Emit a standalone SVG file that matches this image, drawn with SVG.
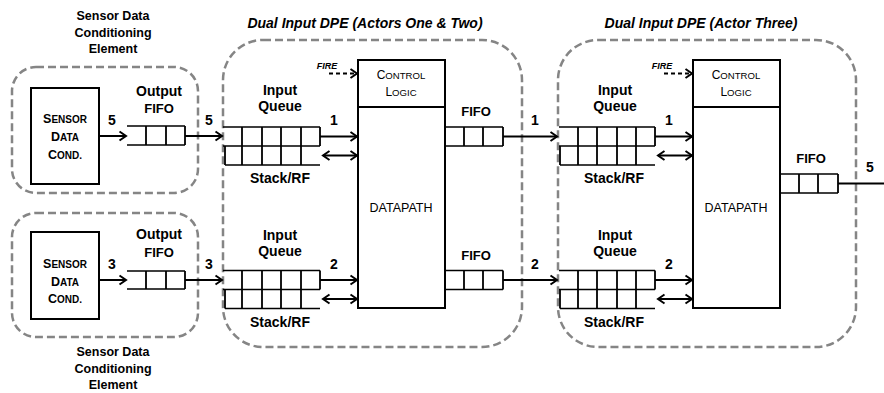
<svg xmlns="http://www.w3.org/2000/svg" width="884" height="393" viewBox="0 0 884 393">
  <style>
    .frame { fill: none; stroke: #858585; stroke-width: 2.5; stroke-dasharray: 8 4; }
    .blk { fill: #fff; stroke: #000; stroke-width: 2; }
    .q { fill: none; stroke: #000; stroke-width: 1.4; }
    .qv { fill: none; stroke: #000; stroke-width: 1.8; }
    .wire { fill: none; stroke: #000; stroke-width: 2; }
    .fire { fill: none; stroke: #000; stroke-width: 1.8; stroke-dasharray: 4 3; }
    text { font-family: "Liberation Sans", Arial, sans-serif; fill: #000; text-anchor: middle; }
    .lbl { font-weight: bold; font-size: 14px; }
    .cap { font-weight: bold; font-size: 12.5px; }
    .ttl { font-weight: bold; font-style: italic; font-size: 14px; }
    .num { font-weight: bold; font-size: 14px; }
    .fifo { font-weight: bold; font-size: 13px; }
    .sd { font-weight: bold; font-size: 12.5px; }
    .sd .s { font-size: 10px; }
    .cl { font-size: 12px; }
    .cl .s { font-size: 9.6px; }
    .dp { font-size: 12.5px; }
    .fl { font-weight: bold; font-style: italic; font-size: 9px; }
  </style>
  <defs>
    <marker id="head" markerUnits="userSpaceOnUse" markerWidth="12" markerHeight="12" viewBox="-9 -6 12 12" refX="0" refY="0" orient="auto-start-reverse">
      <path d="M-6.5,-4.5 L0,0 L-6.5,4.5" fill="none" stroke="#000" stroke-width="2"/>
    </marker>
  </defs>

  <!-- upper sensor data conditioning element -->
  <g id="sensor-top">
    <text class="cap" x="113" y="20">Sensor Data</text>
    <text class="cap" x="113" y="37">Conditioning</text>
    <text class="cap" x="113" y="53">Element</text>
    <rect class="frame" x="12" y="67" width="186" height="126" rx="24"/>
    <rect class="blk" x="31" y="88" width="68" height="96"/>
    <text class="sd" x="65" y="123">S<tspan class="s">ENSOR</tspan></text>
    <text class="sd" x="65" y="141">D<tspan class="s">ATA</tspan></text>
    <text class="sd" x="65" y="159">C<tspan class="s">OND.</tspan></text>
    <text class="lbl" x="159" y="96">Output</text>
    <text class="fifo" x="159" y="113">FIFO</text>
    <path class="q" d="M127,126 H185 M127,145 H185"/>
    <path class="qv" d="M146,126 V145 M166,126 V145 M185,126 V145"/>
  </g>

  <!-- lower sensor data conditioning element -->
  <g id="sensor-bottom">
    <rect class="frame" x="12" y="213" width="186" height="124" rx="24"/>
    <rect class="blk" x="31" y="232" width="68" height="87"/>
    <text class="sd" x="65" y="268">S<tspan class="s">ENSOR</tspan></text>
    <text class="sd" x="65" y="286">D<tspan class="s">ATA</tspan></text>
    <text class="sd" x="65" y="303">C<tspan class="s">OND.</tspan></text>
    <text class="lbl" x="159" y="239">Output</text>
    <text class="fifo" x="159" y="257">FIFO</text>
    <path class="q" d="M127,271 H185 M127,289 H185"/>
    <path class="qv" d="M146,271 V289 M166,271 V289 M185,271 V289"/>
    <text class="cap" x="113" y="356">Sensor Data</text>
    <text class="cap" x="113" y="373">Conditioning</text>
    <text class="cap" x="113" y="389">Element</text>
  </g>

  <!-- dual input DPE, actors one and two -->
  <g id="dpe-a">
    <text class="ttl" x="365" y="28">Dual Input DPE (Actors One &amp; Two)</text>
    <rect class="frame" x="223" y="40" width="299" height="307" rx="40"/>
    <rect class="blk" x="358" y="60" width="87" height="47"/>
    <rect class="blk" x="358" y="107" width="87" height="201"/>
    <text class="cl" x="401" y="79">C<tspan class="s">ONTROL</tspan></text>
    <text class="cl" x="401" y="96">L<tspan class="s">OGIC</tspan></text>
    <text class="dp" x="401" y="212">DATAPATH</text>
    <text class="fl" x="327" y="69">FIRE</text>
    <!-- input queue / stack 1 -->
    <text class="lbl" x="280" y="95">Input</text>
    <text class="lbl" x="280" y="111">Queue</text>
    <path class="q" d="M223,127 H320 M223,146 H320 M225,165 H320"/>
    <path class="qv" d="M242,127 V165 M262,127 V165 M281,127 V165 M301,127 V165 M320,127 V146 M225,146 V165"/>
    <text class="lbl" x="280" y="183">Stack/RF</text>
    <!-- input queue / stack 2 -->
    <text class="lbl" x="280" y="240">Input</text>
    <text class="lbl" x="280" y="256">Queue</text>
    <path class="q" d="M223,270.5 H320 M223,289.5 H320 M225,308.5 H320"/>
    <path class="qv" d="M242,270.5 V308.5 M262,270.5 V308.5 M281,270.5 V308.5 M301,270.5 V308.5 M320,270.5 V289.5 M225,289.5 V308.5"/>
    <text class="lbl" x="280" y="327">Stack/RF</text>
    <!-- output fifos -->
    <text class="fifo" x="476" y="116">FIFO</text>
    <path class="q" d="M445,127 H503 M445,146 H503"/>
    <path class="qv" d="M464,127 V146 M483,127 V146 M503,127 V146"/>
    <text class="fifo" x="476" y="260">FIFO</text>
    <path class="q" d="M445,270.5 H503 M445,289.5 H503"/>
    <path class="qv" d="M464,270.5 V289.5 M483,270.5 V289.5 M503,270.5 V289.5"/>
  </g>

  <!-- dual input DPE, actor three -->
  <g id="dpe-b">
    <text class="ttl" x="701" y="28">Dual Input DPE (Actor Three)</text>
    <rect class="frame" x="558" y="40" width="298" height="307" rx="40"/>
    <rect class="blk" x="693" y="60" width="87" height="47"/>
    <rect class="blk" x="693" y="107" width="87" height="201"/>
    <text class="cl" x="736" y="79">C<tspan class="s">ONTROL</tspan></text>
    <text class="cl" x="736" y="96">L<tspan class="s">OGIC</tspan></text>
    <text class="dp" x="736" y="212">DATAPATH</text>
    <text class="fl" x="662" y="69">FIRE</text>
    <text class="lbl" x="615" y="95">Input</text>
    <text class="lbl" x="615" y="111">Queue</text>
    <path class="q" d="M559,127 H655 M559,146 H655 M560,165 H655"/>
    <path class="qv" d="M578,127 V165 M597,127 V165 M617,127 V165 M636,127 V165 M655,127 V146 M560,146 V165"/>
    <text class="lbl" x="614" y="183">Stack/RF</text>
    <text class="lbl" x="615" y="240">Input</text>
    <text class="lbl" x="615" y="256">Queue</text>
    <path class="q" d="M559,270.5 H655 M559,289.5 H655 M560,308.5 H655"/>
    <path class="qv" d="M578,270.5 V308.5 M597,270.5 V308.5 M617,270.5 V308.5 M636,270.5 V308.5 M655,270.5 V289.5 M560,289.5 V308.5"/>
    <text class="lbl" x="614" y="327">Stack/RF</text>
    <text class="fifo" x="811" y="163">FIFO</text>
    <path class="q" d="M780,174 H838 M780,193 H838"/>
    <path class="qv" d="M799,174 V193 M818,174 V193 M838,174 V193"/>
  </g>

  <!-- connectors -->
  <g id="connectors">
    <path class="wire" d="M99,136 H126" marker-end="url(#head)"/>
    <path class="wire" d="M185,136 H222" marker-end="url(#head)"/>
    <path class="wire" d="M99,280 H126" marker-end="url(#head)"/>
    <path class="wire" d="M185,280 H222" marker-end="url(#head)"/>

    <path class="fire" d="M329,73.5 H357" marker-end="url(#head)"/>
    <path class="wire" d="M320,136.5 H357" marker-end="url(#head)"/>
    <path class="wire" d="M323,155.5 H357" marker-start="url(#head)" marker-end="url(#head)"/>
    <path class="wire" d="M320,280 H357" marker-end="url(#head)"/>
    <path class="wire" d="M323,299 H357" marker-start="url(#head)" marker-end="url(#head)"/>

    <path class="wire" d="M503,136.5 H557" marker-end="url(#head)"/>
    <path class="wire" d="M503,280 H557" marker-end="url(#head)"/>

    <path class="fire" d="M664,73.5 H692" marker-end="url(#head)"/>
    <path class="wire" d="M655,136.5 H692" marker-end="url(#head)"/>
    <path class="wire" d="M658,155.5 H692" marker-start="url(#head)" marker-end="url(#head)"/>
    <path class="wire" d="M655,280 H692" marker-end="url(#head)"/>
    <path class="wire" d="M658,299 H692" marker-start="url(#head)" marker-end="url(#head)"/>

    <path class="wire" d="M838,183.5 H884"/>

    <text class="num" x="112" y="125">5</text>
    <text class="num" x="209" y="125">5</text>
    <text class="num" x="112" y="269">3</text>
    <text class="num" x="209" y="269">3</text>
    <text class="num" x="334" y="125">1</text>
    <text class="num" x="334" y="269">2</text>
    <text class="num" x="535" y="125">1</text>
    <text class="num" x="535" y="269">2</text>
    <text class="num" x="669" y="125">1</text>
    <text class="num" x="669" y="269">2</text>
    <text class="num" x="870" y="172">5</text>
  </g>
</svg>
